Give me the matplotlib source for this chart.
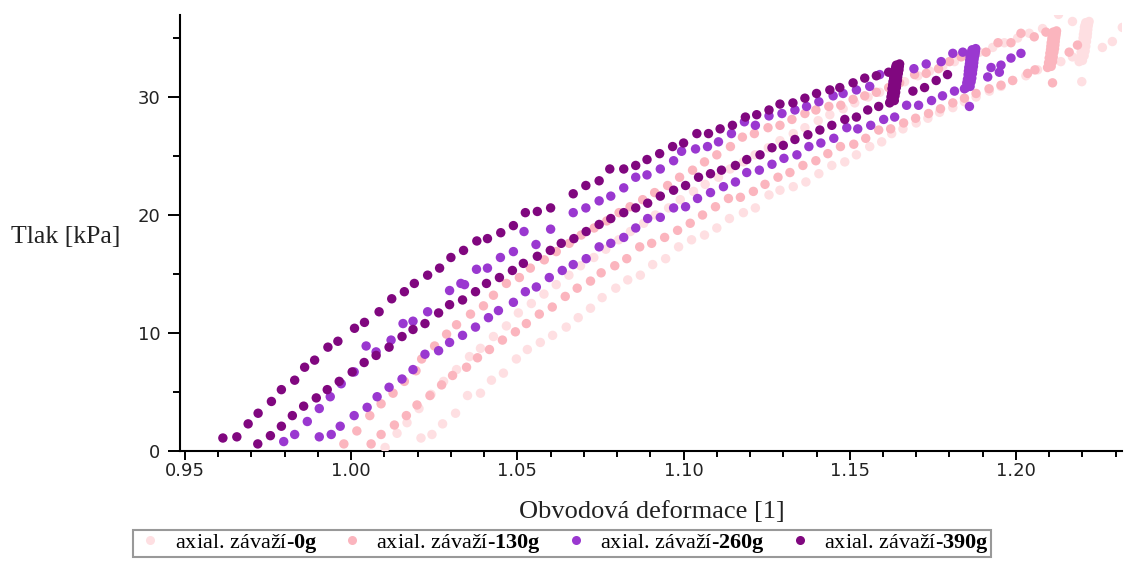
import matplotlib
matplotlib.use('Agg')
import matplotlib.pyplot as plt
from matplotlib.lines import Line2D
from matplotlib.ticker import MultipleLocator
from matplotlib.font_manager import FontProperties

plt.rcParams['mathtext.fontset'] = 'custom'
plt.rcParams['mathtext.rm'] = 'Liberation Serif'
plt.rcParams['mathtext.bf'] = 'Liberation Serif:bold'

# ---------------- data ----------------
labels = ['axial. závaží-$\\mathbf{0g}$', 'axial. závaží-$\\mathbf{130g}$',
          'axial. závaží-$\\mathbf{260g}$', 'axial. závaží-$\\mathbf{390g}$']
colors = ['#FEDFE2', '#FBB5BE', '#9A38D0', '#80077F']

# 0 g
x0u = [1.0102,1.0138,1.0168,1.0204,1.024,1.0278,1.0317,1.0356,1.0389,1.0428,1.0467,1.0503,1.0542,1.058,1.0617,1.0655,1.069,1.073,1.0766,1.0805,1.084,1.088,1.0915,1.0955,1.099,1.103,1.1065,1.1105,1.114,1.118,1.1215,1.1255,1.129,1.133,1.1365,1.1405,1.144,1.148,1.1515,1.1555,1.159,1.163,1.1665,1.1705,1.174,1.178,1.1815,1.1855,1.189,1.193,1.1965,1.2005,1.204,1.208,1.2128]
y0u = [0.3,1.5,2.4,3.6,4.8,5.9,6.9,8.0,8.7,9.7,10.6,11.7,12.5,13.3,14.1,14.9,15.7,16.4,17.1,17.9,18.6,19.3,20.0,20.6,21.3,22.0,22.6,23.2,23.9,24.5,25.1,25.7,26.3,26.9,27.4,28.0,28.5,29.0,29.5,30.0,30.4,30.9,31.3,31.8,32.2,32.6,33.0,33.4,33.8,34.2,34.6,35.0,35.4,35.8,37.0]
x0l = [1.021,1.0243,1.0275,1.0314,1.035,1.0389,1.0422,1.0458,1.0497,1.053,1.0569,1.0606,1.0647,1.0683,1.072,1.0755,1.0796,1.0832,1.087,1.0907,1.0946,1.0985,1.1024,1.1063,1.110,1.1138,1.118,1.1216,1.1257,1.129,1.133,1.1368,1.1407,1.1446,1.1485,1.152,1.156,1.1596,1.1626,1.166,1.170,1.1735,1.177,1.181,1.1845,1.188,1.192,1.1955,1.199,1.203,1.2065,1.210,1.2135,1.217]
y0l = [1.1,1.4,2.3,3.2,4.7,4.9,6.0,6.6,7.8,8.6,9.2,9.8,10.5,11.3,12.1,13.0,13.8,14.5,14.9,15.8,16.3,17.3,17.9,18.3,18.9,19.7,20.2,20.6,21.7,22.1,22.4,22.8,23.5,24.2,24.5,25.1,25.8,26.2,26.9,27.3,27.8,28.2,28.7,29.1,29.6,30.0,30.5,30.9,31.4,31.8,32.3,32.7,33.0,33.4]
x0h = [1.2190,1.2200,1.2194,1.2205,1.2196,1.2208,1.2198,1.2210,1.2200,1.2212,1.2202,1.2214,1.2203,1.2215,1.2205,1.2216,1.2206,1.2217,1.2208,1.2218,1.2210,1.2220]
y0h = [33.0,33.1,33.4,33.5,33.8,33.9,34.2,34.3,34.6,34.7,35.0,35.1,35.3,35.4,35.6,35.7,35.9,36.0,36.1,36.2,36.3,36.4]
x0e = [1.217,1.226,1.229,1.232,1.2198]
y0e = [36.4,34.2,34.7,35.9,31.3]

# 130 g
x130u = [0.9978,1.0017,1.0056,1.009,1.0126,1.016,1.0195,1.0212,1.0251,1.0287,1.0317,1.0359,1.0398,1.0428,1.0467,1.0506,1.0539,1.0581,1.0617,1.0656,1.0692,1.0731,1.0769,1.0806,1.0839,1.0877,1.0913,1.0952,1.0988,1.1027,1.1063,1.110,1.1141,1.1177,1.1213,1.1254,1.129,1.1326,1.1365,1.1398,1.1437,1.1473,1.151,1.1545,1.158,1.1617,1.165,1.1695,1.173,1.1767,1.180,1.1835,1.187,1.191,1.1946,1.1985,1.2015,1.2055,1.209]
y130u = [0.6,1.7,3.0,4.0,4.9,5.9,6.8,7.8,8.9,9.9,10.7,11.6,12.3,13.2,14.2,14.7,15.5,16.2,16.9,17.6,18.3,18.9,19.5,20.2,20.7,21.3,21.9,22.5,23.2,23.8,24.5,25.1,25.8,26.6,26.9,27.4,27.6,28.1,28.6,28.9,29.2,29.3,29.8,30.1,30.4,30.8,31.2,31.9,32.0,32.4,33.0,33.4,33.8,33.8,34.6,34.6,35.4,35.1,35.5]
x130l = [1.006,1.009,1.013,1.0166,1.0198,1.0237,1.0272,1.0305,1.0347,1.038,1.0416,1.0455,1.0494,1.0527,1.0566,1.0605,1.0644,1.068,1.072,1.0752,1.0793,1.0829,1.0868,1.0904,1.0943,1.0982,1.102,1.1057,1.1096,1.1135,1.1171,1.121,1.1245,1.1284,1.132,1.1359,1.1398,1.1434,1.1472,1.1512,1.1548,1.1587,1.1623,1.1662,1.1698,1.1737,1.1773,1.181,1.1845,1.188,1.1919,1.1955,1.199,1.2035,1.2057]
y130l = [0.6,1.4,2.2,3.0,3.9,4.7,5.6,6.4,7.1,7.9,8.6,9.4,10.1,10.8,11.6,12.2,13.1,13.8,14.4,15.1,15.7,16.3,17.3,17.6,18.1,18.7,19.3,20.0,20.7,21.4,21.5,22.0,22.6,23.2,23.6,24.2,24.6,25.2,25.8,26.0,26.5,27.2,27.3,27.8,28.2,28.6,29.0,29.5,29.9,30.3,30.7,31.0,31.4,32.0,32.3]
x130h = [1.2095,1.2106,1.2098,1.2110,1.2100,1.2112,1.2102,1.2114,1.2104,1.2116,1.2105,1.2117,1.2106,1.2118,1.2108,1.2119,1.2109,1.2120,1.2110,1.2121,1.2112,1.2122]
y130h = [32.5,32.6,32.9,33.0,33.3,33.4,33.7,33.8,34.0,34.1,34.3,34.4,34.6,34.7,34.9,35.0,35.1,35.2,35.3,35.4,35.5,35.6]
x130e = [1.216,1.2185,1.211]
y130e = [33.8,34.4,31.2]

# 260 g
x260u = [0.9797,0.983,0.9868,0.9904,0.9937,0.997,1.0009,1.0045,1.0075,1.012,1.0156,1.0186,1.023,1.0296,1.033,1.0341,1.0377,1.041,1.0449,1.0488,1.052,1.0556,1.060,1.0668,1.0706,1.0746,1.0781,1.082,1.0856,1.089,1.093,1.097,1.0994,1.1036,1.1072,1.1105,1.1144,1.1183,1.1216,1.1257,1.1296,1.1335,1.137,1.1407,1.145,1.148,1.152,1.156,1.159,1.1645,1.1693,1.173,1.1775,1.181,1.184]
y260u = [0.8,1.4,2.5,3.6,4.6,5.7,6.7,8.9,8.4,9.4,10.8,11.0,11.8,13.6,14.2,14.1,15.4,15.5,16.4,16.9,18.6,17.5,18.8,20.2,20.6,21.2,21.6,22.3,23.2,23.4,23.9,24.6,25.4,25.6,25.8,26.2,26.9,27.9,27.6,28.4,28.6,28.9,29.2,29.6,30.1,30.3,30.6,30.9,31.9,32.3,32.4,32.8,33.0,33.7,33.8]
x260l = [0.9904,0.994,0.9967,1.0009,1.0048,1.0078,1.0114,1.0153,1.0186,1.0222,1.0263,1.0296,1.0335,1.0374,1.0413,1.0443,1.0488,1.0524,1.0557,1.0596,1.0635,1.0668,1.0707,1.0746,1.0781,1.082,1.0856,1.0892,1.093,1.097,1.1006,1.1042,1.1081,1.112,1.1156,1.119,1.1228,1.1266,1.1302,1.1341,1.1377,1.1413,1.1452,1.1491,1.1524,1.1563,1.1602,1.1635,1.1671,1.1707,1.1746,1.1779,1.1815,1.1845]
y260l = [1.2,1.4,2.1,3.0,3.7,4.6,5.4,6.1,6.9,8.2,8.5,9.2,9.8,10.5,11.3,11.9,12.6,13.5,13.9,14.7,15.3,15.8,16.3,17.3,17.6,18.1,18.9,19.7,19.8,20.6,20.7,21.4,21.9,22.4,22.8,23.6,23.8,24.3,24.8,25.1,25.8,26.1,26.5,27.4,27.3,27.6,28.1,28.3,29.3,29.3,29.7,30.1,30.5,30.7]
x260h = [1.1850,1.1862,1.1852,1.1865,1.1854,1.1867,1.1856,1.1869,1.1857,1.1870,1.1858,1.1872,1.1860,1.1873,1.1861,1.1874,1.1862,1.1876,1.1864,1.1877,1.1866,1.1878,1.1868,1.1879]
y260h = [30.8,30.9,31.2,31.3,31.5,31.6,31.9,32.0,32.2,32.3,32.5,32.6,32.8,32.9,33.1,33.2,33.4,33.5,33.6,33.7,33.8,33.9,34.0,34.1]
x260e = [1.1915,1.1925,1.195,1.1955,1.1985,1.2015,1.186]
y260e = [31.7,32.5,32.1,32.7,33.3,33.7,29.2]

# 390 g
x390u = [0.9614,0.9656,0.969,0.972,0.976,0.979,0.983,0.986,0.989,0.993,0.996,1.001,1.004,1.0084,1.0122,1.016,1.019,1.023,1.0266,1.030,1.0338,1.0378,1.041,1.045,1.0488,1.0524,1.056,1.060,1.0668,1.0706,1.0746,1.0778,1.082,1.0856,1.089,1.0928,1.0967,1.100,1.104,1.1075,1.111,1.1147,1.1186,1.122,1.1257,1.129,1.1329,1.1365,1.140,1.144,1.147,1.151,1.1545,1.158,1.1617]
y390u = [1.1,1.2,2.3,3.2,4.2,5.2,6.0,7.1,7.7,8.8,9.3,10.4,10.9,11.8,12.9,13.5,14.2,14.9,15.5,16.4,17.0,17.8,18.0,18.5,19.1,20.2,20.3,20.6,21.8,22.5,22.9,23.9,23.9,24.2,24.7,25.2,25.8,26.1,26.9,26.9,27.3,27.6,28.3,28.5,28.9,29.4,29.5,29.9,30.3,30.6,30.8,31.2,31.6,31.8,32.1]
x390l = [0.9719,0.9757,0.979,0.9823,0.9857,0.9895,0.9928,0.9964,1.0003,1.0039,1.0075,1.0114,1.0153,1.0186,1.0222,1.0263,1.0296,1.0335,1.0374,1.0407,1.0446,1.0485,1.0518,1.056,1.0599,1.0632,1.067,1.0707,1.0746,1.0781,1.082,1.0856,1.0892,1.093,1.097,1.1006,1.1045,1.1081,1.1114,1.1156,1.119,1.123,1.1266,1.130,1.1335,1.1374,1.141,1.1446,1.1485,1.152,1.1554,1.1587,1.162]
y390l = [0.6,1.3,2.1,3.0,3.8,4.5,5.2,5.9,6.7,7.5,8.1,8.8,9.7,10.3,10.8,11.7,12.4,12.8,13.5,14.2,14.7,15.3,15.9,16.5,17.0,17.6,18.0,18.6,19.2,19.7,20.2,20.6,21.0,21.6,22.1,22.5,23.2,23.5,23.8,24.2,24.7,25.1,25.7,25.9,26.4,26.8,27.2,27.6,28.1,28.3,28.9,29.2,29.5]
x390h = [1.1622,1.1634,1.1624,1.1636,1.1626,1.1638,1.1627,1.1640,1.1629,1.1641,1.1630,1.1643,1.1632,1.1644,1.1634,1.1646,1.1636,1.1648,1.1638,1.1649,1.1640,1.1650]
y390h = [29.6,29.7,30.0,30.1,30.3,30.4,30.7,30.8,31.0,31.1,31.3,31.4,31.6,31.7,31.9,32.0,32.2,32.3,32.5,32.6,32.7,32.8]
x390e = [1.169,1.1725,1.176,1.1794]
y390e = [30.5,30.8,31.4,31.9]

series = [
    (x0u + x0l + x0h + x0e, y0u + y0l + y0h + y0e),
    (x130u + x130l + x130h + x130e, y130u + y130l + y130h + y130e),
    (x260u + x260l + x260h + x260e, y260u + y260l + y260h + y260e),
    (x390u + x390l + x390h + x390e, y390u + y390l + y390h + y390e),
]

# ---------------- figure ----------------
W, H = 1124, 561
fig = plt.figure(figsize=(W / 100, H / 100), dpi=100)
ax = fig.add_axes([180 / W, 110 / H, 942 / W, 436 / H])

for (xs, ys), col in zip(series, colors):
    ax.scatter(xs, ys, s=46, color=col, edgecolors='none', zorder=3)

ax.set_xlim(0.9485, 1.2319)
ax.set_ylim(0, 36.95)
for side in ['top', 'right']:
    ax.spines[side].set_visible(False)
for side in ['left', 'bottom']:
    ax.spines[side].set_linewidth(1.5)
    ax.spines[side].set_color('black')

ax.xaxis.set_minor_locator(MultipleLocator(0.01))
ax.yaxis.set_major_locator(MultipleLocator(10))
ax.yaxis.set_minor_locator(MultipleLocator(5))
ax.set_xticks([0.95, 1.00, 1.05, 1.10, 1.15, 1.20])
ax.set_xticklabels(['0.95', '1.00', '1.05', '1.10', '1.15', '1.20'])
ax.tick_params(axis='x', which='major', length=6.5, width=1.4, pad=1.5,
               labelsize=13, direction='out')
ax.tick_params(axis='x', which='minor', length=4, width=1.4, direction='out')
ax.tick_params(axis='y', which='major', length=9, width=1.4, pad=5,
               labelsize=13, direction='out')
ax.tick_params(axis='y', which='minor', length=5, width=1.4, direction='out')
for lab in ax.get_xticklabels() + ax.get_yticklabels():
    lab.set_fontfamily('DejaVu Sans')
    lab.set_color('#222222')

serif = 'Liberation Serif'
fig.text(652 / W, 1 - 512 / H, 'Obvodová deformace [1]', ha='center', va='center',
         fontfamily=serif, fontsize=19, color='#222222')
fig.text(66 / W, 1 - 237 / H, 'Tlak [kPa]', ha='center', va='center',
         fontfamily=serif, fontsize=18.5, color='#222222')

handles = [Line2D([], [], linestyle='none', marker='o', markersize=6.5,
                  markerfacecolor=c, markeredgecolor='none') for c in colors]
leg = fig.legend(handles, labels, loc='lower center', bbox_to_anchor=(0.5, 4 / H),
                 ncol=4, frameon=True, fancybox=False, edgecolor='#808080',
                 prop=FontProperties(family=serif, size=16), handletextpad=0.4,
                 columnspacing=0.85, borderpad=0.1, handlelength=1.4,
                 borderaxespad=0)
leg.get_frame().set_linewidth(1.5)

fig.savefig('out.png', dpi=100)
